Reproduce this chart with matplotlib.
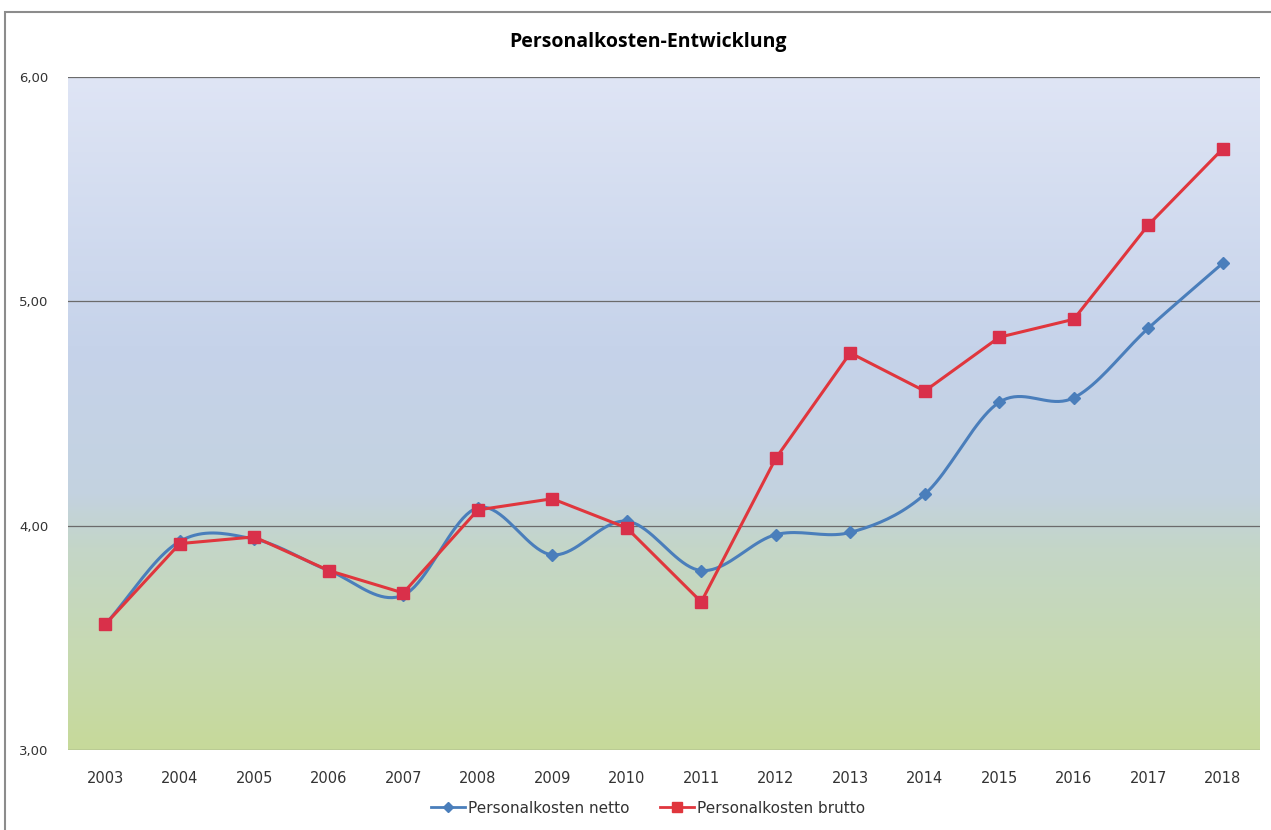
import matplotlib.pyplot as plt
import numpy as np
from matplotlib.colors import LinearSegmentedColormap
from matplotlib.patches import Rectangle

years = ['2003', '2004', '2005', '2006', '2007', '2008', '2009', '2010',
         '2011', '2012', '2013', '2014', '2015', '2016', '2017', '2018']
netto = [3.56, 3.93, 3.94, 3.80, 3.69, 4.08, 3.87, 4.02,
         3.80, 3.96, 3.97, 4.14, 4.55, 4.57, 4.88, 5.17]
brutto = [3.56, 3.92, 3.95, 3.80, 3.70, 4.07, 4.12, 3.99,
          3.66, 4.30, 4.77, 4.60, 4.84, 4.92, 5.34, 5.68]
yticks = [3, 4, 5, 6]
ytick_labels = ['3,00', '4,00', '5,00', '6,00']


def smooth(x, y, n=20):
    # catmull-rom curve through the points (Excel style smoothed line)
    x = np.asarray(x, float)
    y = np.asarray(y, float)
    px = np.concatenate([[2 * x[0] - x[1]], x, [2 * x[-1] - x[-2]]])
    py = np.concatenate([[2 * y[0] - y[1]], y, [2 * y[-1] - y[-2]]])
    xs, ys = [], []
    t = np.linspace(0, 1, n, endpoint=False)
    for i in range(1, len(px) - 2):
        for p, out in ((px, xs), (py, ys)):
            p0, p1, p2, p3 = p[i - 1], p[i], p[i + 1], p[i + 2]
            out.extend(0.5 * (2 * p1 + (-p0 + p2) * t
                              + (2 * p0 - 5 * p1 + 4 * p2 - p3) * t ** 2
                              + (-p0 + 3 * p1 - 3 * p2 + p3) * t ** 3))
    xs.append(x[-1])
    ys.append(y[-1])
    return np.array(xs), np.array(ys)


fig = plt.figure(figsize=(12.71, 8.30), dpi=100)
ax = fig.add_axes([68 / 1271, 1 - 750 / 830, (1260 - 68) / 1271, (750 - 77) / 830])

# outer chart border (right and bottom run off the image)
fig.patches.append(Rectangle((5 / 1271, -0.2), 1.2, 1.2 - 12 / 830, transform=fig.transFigure,
                             fill=False, edgecolor='#8c8c8c', linewidth=1.5))

x = np.arange(len(years))
ax.set_xlim(-0.5, len(years) - 0.5)
ax.set_ylim(3, 6)

# background gradient blue (top) -> green (bottom)
cmap = LinearSegmentedColormap.from_list('bg', [
    (0.0, '#c6d99a'), (0.12, '#c7daae'), (0.30, '#c4d6c8'),
    (0.38, '#c3d2e0'), (0.6, '#c6d3ea'), (1.0, '#dfe5f5')])
grad = np.linspace(0, 1, 256).reshape(-1, 1)
ax.imshow(grad, cmap=cmap, origin='lower', aspect='auto',
          extent=[-0.5, len(years) - 0.5, 3, 6], zorder=0)

for yv in yticks:
    ax.axhline(yv, color='#6b6b6b', linewidth=0.9, zorder=1)

sx, sy = smooth(x, netto)
ax.plot(sx, sy, color='#4a7ebb', linewidth=2.2, zorder=3)
ax.plot(x, netto, linestyle='none', marker='D', markersize=6, color='#4a7ebb', zorder=4)
ax.plot(x, brutto, color='#e0363d', linewidth=2.2, marker='s', markersize=9,
        markerfacecolor='#d9304a', markeredgecolor='#d9304a', zorder=5)

for s in ax.spines.values():
    s.set_visible(False)
ax.set_xticks(x)
ax.set_xticklabels(years, fontsize=10.5, family='Liberation Sans Narrow', color='#333333')
ax.set_yticks(yticks)
ax.set_yticklabels(ytick_labels, fontsize=9.5, family='Liberation Sans Narrow', color='#333333')
ax.tick_params(length=0)
ax.tick_params(axis='x', pad=15)
ax.tick_params(axis='y', pad=14)

fig.text(0.51, 1 - 42 / 830, 'Personalkosten-Entwicklung', ha='center', va='center',
         fontsize=14, fontweight='bold', family='Open Sans')

# legend
h1, = ax.plot([], [], color='#4a7ebb', linewidth=2, marker='D', markersize=5)
h2, = ax.plot([], [], color='#e0363d', linewidth=2, marker='s', markersize=7)
fig.legend([h1, h2], ['Personalkosten netto', 'Personalkosten brutto'],
           loc='center', bbox_to_anchor=(0.51, 1 - 808 / 830), ncol=2, frameon=False,
           prop={'family': 'Liberation Sans Narrow', 'size': 11}, handlelength=2.2,
           handletextpad=0.2, columnspacing=2.0, labelcolor='#333333')

plt.savefig('out.png', dpi=100)
